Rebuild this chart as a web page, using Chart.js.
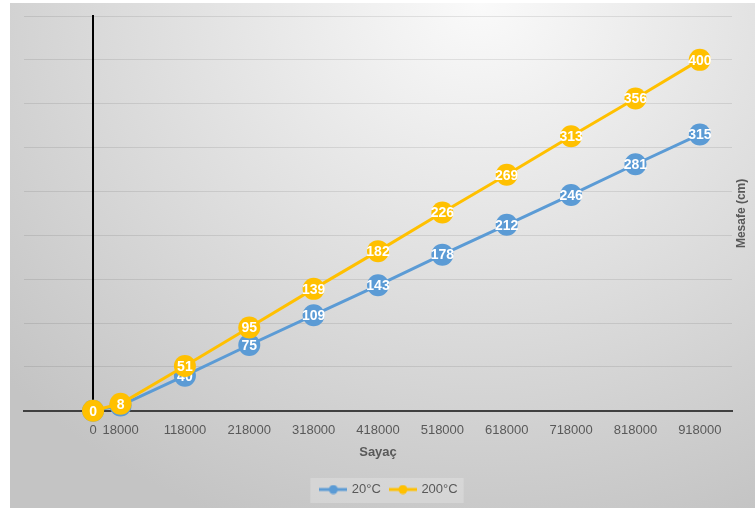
<!DOCTYPE html>
<html>
<head>
<meta charset="utf-8">
<script src="https://cdn.jsdelivr.net/npm/chart.js@4.4.0/dist/chart.umd.min.js"></script>
<style>
  html, body { margin: 0; padding: 0; background: #fff; }
  .frame {
    position: absolute; left: 10px; top: 3px; width: 745px; height: 505px;
    background: radial-gradient(ellipse 640px 560px at 470px 0px, #fafafa 0%, #c4c4c4 100%);
  }
</style>
</head>
<body>
<div class="frame"><canvas id="myChart" width="745" height="505"></canvas></div>
<script>
// counter values on the x axis
const counter = [0, 18000, 118000, 218000, 318000, 418000, 518000, 618000, 718000, 818000, 918000];
// distance (cm) for each temperature
const dist20 = [0, 6, 40, 75, 109, 143, 178, 212, 246, 281, 315];
const dist200 = [0, 8, 51, 95, 139, 182, 226, 269, 313, 356, 400];
const seriesNames = ['20°C', '200°C'];

const blue = '#5b9bd5';
const yellow = '#ffc000';

// excel squeezed the first step (0 -> 18000), so the x scale stretches it a bit
class GapScale extends Chart.LinearScale {
  warp(v) {
    const first = counter[1];
    return v < first ? first - (first - v) * 42700 / first : v;
  }
  getPixelForValue(value) {
    return super.getPixelForValue(this.warp(value));
  }
}
GapScale.id = 'gap';
GapScale.defaults = {};
Chart.register(GapScale);

function marker(color) {
  const c = document.createElement('canvas');
  c.width = 28; c.height = 10;
  const g = c.getContext('2d');
  g.strokeStyle = color; g.lineWidth = 3;
  g.beginPath(); g.moveTo(0, 5); g.lineTo(28, 5); g.stroke();
  g.fillStyle = color;
  g.beginPath(); g.arc(14, 5, 4.5, 0, Math.PI * 2); g.fill();
  return c;
}
const markers = [marker(blue), marker(yellow)];

// white value labels on top of each point
const pointLabels = {
  id: 'pointLabels',
  afterDatasetDraw(chart, args) {
    const ctx = chart.ctx;
    const ds = chart.data.datasets[args.index];
    ctx.save();
    ctx.font = 'bold 14px "Liberation Sans"';
    ctx.fillStyle = '#fff';
    ctx.textAlign = 'center';
    ctx.textBaseline = 'middle';
    args.meta.data.forEach((pt, i) => ctx.fillText(ds.data[i].y, pt.x, pt.y + 1));
    ctx.restore();
  }
};

// y title sits on the right, reading upwards; plus the legend's light box
const extras = {
  id: 'extras',
  beforeDraw(chart) {
    const boxes = chart.legend.legendHitBoxes;
    if (boxes && boxes.length) {
      const a = boxes[0], b = boxes[boxes.length - 1];
      const ctx = chart.ctx;
      ctx.save();
      ctx.fillStyle = 'rgba(255,255,255,0.22)';
      ctx.fillRect(a.left - 11, a.top - 5, b.left + b.width - a.left + 17, 25);
      ctx.restore();
    }
  },
  afterDraw(chart) {
    const ctx = chart.ctx;
    const area = chart.chartArea;
    ctx.save();
    ctx.translate(area.right + 10, (area.top + area.bottom) / 2);
    ctx.rotate(-Math.PI / 2);
    ctx.font = 'bold 12px "Liberation Sans"';
    ctx.fillStyle = '#595959';
    ctx.textAlign = 'center';
    ctx.textBaseline = 'middle';
    ctx.fillText('Mesafe (cm)', 0, 0);
    ctx.restore();
  }
};

Chart.defaults.font.family = '"Liberation Sans", sans-serif';
Chart.defaults.color = '#595959';

let ctx = document.getElementById('myChart');
let myChart = new Chart(ctx, {
  type: 'line',
  data: {
    datasets: [{
      label: seriesNames[0],
      data: counter.map((c, i) => ({ x: c, y: dist20[i] })),
      borderColor: blue,
      backgroundColor: blue,
      borderWidth: 3,
      pointRadius: 11,
      pointBorderWidth: 0,
      order: 1,
      clip: false
    }, {
      label: seriesNames[1],
      data: counter.map((c, i) => ({ x: c, y: dist200[i] })),
      borderColor: yellow,
      backgroundColor: yellow,
      borderWidth: 3,
      pointRadius: 11,
      pointBorderWidth: 0,
      order: 0,
      clip: false
    }]
  },
  options: {
    responsive: false,
    animation: false,
    layout: { padding: { left: 14, right: 0, top: 13, bottom: 2 } },
    plugins: {
      tooltip: { enabled: false },
      legend: {
        position: 'bottom',
        reverse: true,
        labels: {
          usePointStyle: true,
          pointStyleWidth: 24,
          padding: 10,
          font: { size: 13 },
          color: '#595959',
          generateLabels(chart) {
            const items = Chart.defaults.plugins.legend.labels.generateLabels(chart);
            items.forEach(item => item.pointStyle = markers[item.datasetIndex]);
            return items;
          }
        }
      }
    },
    scales: {
      x: {
        type: 'gap',
        min: -132000,
        max: 968000,
        afterBuildTicks: scale => { scale.ticks = counter.map(v => ({ value: v })); },
        grid: { display: true, color: 'transparent', drawTicks: false },
        border: { display: true, color: '#404040', width: 2 },
        ticks: {
          autoSkip: false,
          maxRotation: 0,
          padding: 12,
          font: { size: 13 },
          color: '#595959',
          callback: v => String(v)
        },
        title: {
          display: true,
          text: 'Sayaç',
          font: { size: 13, weight: 'bold' },
          color: '#595959',
          padding: { top: -6, bottom: 13 }
        }
      },
      y: {
        position: { x: 0 },
        min: 0,
        max: 450,
        ticks: { stepSize: 50, display: false },
        grid: { color: 'rgba(0,0,0,0.09)', drawTicks: false },
        border: { display: true, color: '#000', width: 2 }
      },
      // empty strip on the right that holds the y title
      side: {
        position: 'right',
        ticks: { display: false },
        grid: { display: false },
        border: { display: false },
        afterFit: scale => { scale.width = 23; }
      }
    }
  },
  plugins: [pointLabels, extras]
});
</script>
</body>
</html>
